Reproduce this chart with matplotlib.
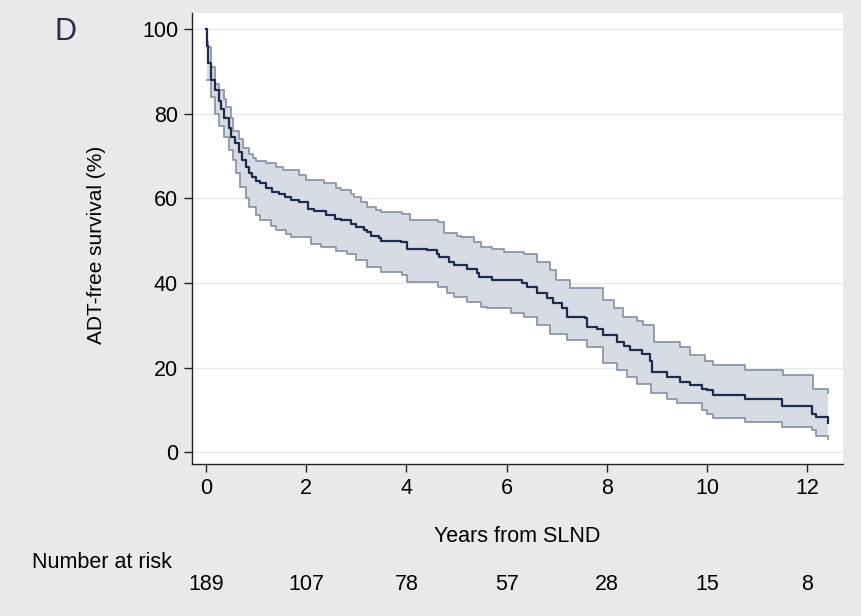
import numpy as np
import matplotlib.pyplot as plt
from matplotlib.transforms import blended_transform_factory

plt.rcParams['font.family'] = ['Liberation Sans', 'DejaVu Sans']

# Kaplan-Meier estimate (years, %)
t_surv = [0, 0.01, 0.03, 0.1, 0.18, 0.26, 0.3, 0.36, 0.45, 0.5, 0.58, 0.66, 0.72, 0.8,
          0.86, 0.92, 1.0, 1.07, 1.2, 1.32, 1.45, 1.58, 1.7, 1.85, 2.03, 2.15, 2.4, 2.58,
          2.7, 2.9, 3.0, 3.15, 3.22, 3.3, 3.45, 3.49, 3.9, 4.02, 4.4, 4.6, 4.65, 4.85,
          4.95, 5.2, 5.4, 5.45, 5.7, 6.31, 6.4, 6.6, 6.8, 6.93, 7.1, 7.2, 7.57, 7.6, 7.8,
          7.93, 8.2, 8.35, 8.47, 8.7, 8.85, 8.9, 9.2, 9.46, 9.66, 9.9, 9.99, 10.12, 10.76,
          11.49, 12.09, 12.18, 12.41, 12.42]
surv = [100, 96, 92, 88, 85.6, 83, 81, 79, 76.5, 74.5, 73, 71, 69, 67.5,
        66, 65, 64, 63.6, 62.5, 61.5, 61, 60.4, 59.6, 59.2, 57.5, 57, 56, 55.2,
        54.8, 54, 53.3, 52.5, 52, 51, 50.5, 50, 49.7, 47.9, 47.8, 46.8, 46.2, 45,
        44.2, 43.4, 42.4, 41.4, 40.7, 39.9, 39, 37.5, 36.5, 35.2, 34, 32, 31.6, 29.6, 29,
        27.7, 26.1, 25, 24.1, 23.3, 21.5, 19, 17.8, 16.6, 15.8, 15, 14.7, 13.6, 12.5,
        11, 9.1, 8.2, 6.9, 6.9]

# 95% confidence limits
t_upper = [0.02, 0.03, 0.1, 0.18, 0.26, 0.36, 0.4, 0.5, 0.53, 0.65, 0.73, 0.85, 0.93, 1.0,
           1.2, 1.4, 1.53, 1.85, 2.0, 2.35, 2.6, 2.7, 2.9, 2.95, 3.1, 3.22, 3.4, 3.49,
           3.92, 4.08, 4.62, 4.75, 5.0, 5.08, 5.35, 5.48, 5.7, 5.95, 6.34, 6.6, 6.87,
           6.99, 7.27, 7.93, 8.15, 8.33, 8.6, 8.73, 8.93, 9.46, 9.66, 9.95, 10.12, 10.76,
           11.52, 12.12, 12.41, 12.42]
upper = [97, 95.8, 91, 87, 85.6, 83.5, 81.6, 79, 76, 74, 71.8, 70.5, 69.5, 68.9,
         68.3, 67.5, 66.7, 65.5, 64.3, 63.5, 62.5, 62, 61, 60.4, 59.2, 58, 57.3, 56.8,
         56.4, 54.8, 54.4, 51.8, 51.2, 50.9, 49.7, 48.5, 48, 47.3, 46.9, 45, 43,
         40.7, 38.7, 35.9, 34, 32, 31, 30, 26.1, 24.9, 22.9, 21.5, 20.6, 19.4,
         18.2, 15, 13.9, 13.9]
t_lower = [0.02, 0.1, 0.18, 0.26, 0.36, 0.46, 0.54, 0.6, 0.67, 0.8, 0.86, 1.0, 1.07, 1.3,
           1.4, 1.6, 1.7, 2.1, 2.3, 2.6, 2.82, 3.0, 3.22, 3.49, 3.92, 4.02, 4.62, 4.8,
           4.95, 5.2, 5.48, 5.6, 6.08, 6.34, 6.6, 6.87, 7.2, 7.6, 7.93, 8.2, 8.4, 8.6,
           8.87, 9.2, 9.4, 9.9, 10.0, 10.12, 10.76, 11.49, 12.09, 12.18, 12.41, 12.42]
lower = [88, 84, 80, 77, 74.5, 71.5, 69, 66, 62.7, 60, 58, 56, 54.8, 53.5,
         52.5, 51.5, 50.9, 49.3, 48.5, 47.5, 46.9, 45.5, 43.8, 42.6, 41.8, 40.3, 39, 37.5,
         36.7, 35.5, 34.3, 34, 32.8, 32, 30, 28, 26.5, 24.9, 21, 19.5, 17.8, 16,
         13.9, 12.5, 11.5, 10, 9.1, 8, 7.2, 6, 5.2, 3.9, 3.2, 3.2]

risk_times = [0, 2, 4, 6, 8, 10, 12]
at_risk = [189, 107, 78, 57, 28, 15, 8]


def steps(t, s):
    # staircase vertices (step after each time)
    xs, ys = [t[0]], [s[0]]
    for i in range(1, len(t)):
        xs += [t[i], t[i]]
        ys += [s[i - 1], s[i]]
    return np.array(xs), np.array(ys)


fig = plt.figure(figsize=(8.62, 6.16), dpi=100, facecolor='#e9e9e9')
ax = fig.add_axes([0.2227, 0.2468, 0.7552, 0.7321])
ax.set_facecolor('white')

xu, yu = steps(t_upper, upper)
xl, yl = steps(t_lower, lower)
ax.fill(np.concatenate([xu, xl[::-1]]), np.concatenate([yu, yl[::-1]]),
        color='#d6dbe4', lw=0, zorder=2)
ax.plot(xu, yu, color='#8c96aa', lw=1.3, zorder=3)
ax.plot(xl, yl, color='#8c96aa', lw=1.3, zorder=3)
ax.step(t_surv, surv, where='post', color='#1f2b4c', lw=1.6, zorder=4)

ax.set_xlim(-0.28, 12.71)
ax.set_ylim(-2.8, 103.8)
ax.set_xticks(risk_times)
ax.set_yticks([0, 20, 40, 60, 80, 100])
ax.grid(axis='y', color='#e3e9ed', lw=1.0, zorder=0)
ax.set_axisbelow(True)
for side in ['top', 'right']:
    ax.spines[side].set_visible(False)
for side in ['left', 'bottom']:
    ax.spines[side].set_color('#222222')
    ax.spines[side].set_linewidth(1.0)
ax.tick_params(length=6, width=1.0, color='#222222', labelsize=15.5, pad=4)

ax.set_ylabel('ADT-free survival (%)', fontsize=15)
ax.yaxis.set_label_coords(-0.132, 0.485)
ax.set_xlabel('Years from SLND', fontsize=15.5)
ax.xaxis.set_label_coords(0.5, -0.137)

fig.text(66 / 862, 1 - 32 / 616, 'D', fontsize=22, color='#2a2d4e', ha='center', va='center')
fig.text(32 / 862, 1 - 562 / 616, 'Number at risk', fontsize=15.5, ha='left', va='center')
trans = blended_transform_factory(ax.transData, fig.transFigure)
for t, n in zip(risk_times, at_risk):
    ax.text(t, 1 - 585 / 616, str(n), fontsize=15.5, ha='center', va='center',
            transform=trans)

fig.savefig('out.png', dpi=100, facecolor=fig.get_facecolor())
